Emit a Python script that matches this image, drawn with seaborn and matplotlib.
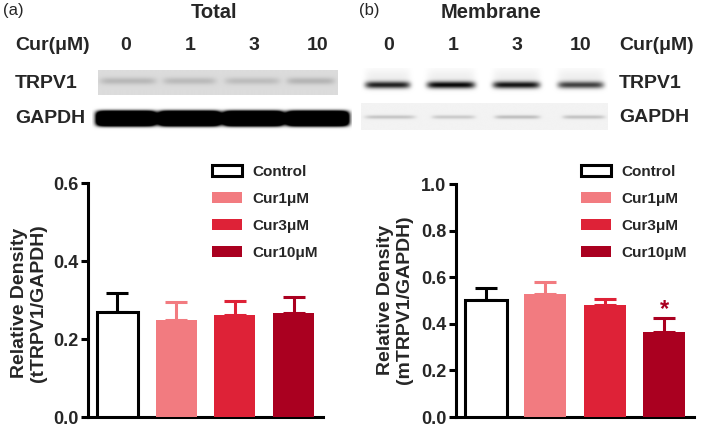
import numpy as np
import pandas as pd
import matplotlib
matplotlib.use("Agg")
import matplotlib.pyplot as plt
from matplotlib.patches import Patch
import seaborn as sns

# ---------------- data ----------------
groups = ["Control", "Cur1μM", "Cur3μM", "Cur10μM"]
lanes = ["0", "1", "3", "10"]
total_mean = [0.269, 0.249, 0.261, 0.266]
total_sem = [0.049, 0.046, 0.037, 0.041]
mem_mean = [0.502, 0.528, 0.481, 0.365]
mem_sem = [0.053, 0.051, 0.025, 0.060]
total_yticks = [0.0, 0.2, 0.4, 0.6]
mem_yticks = [0.0, 0.2, 0.4, 0.6, 0.8, 1.0]
sig_marks = ["", "", "", "*"]
# blot band darkness (0 = white, 1 = black)
total_trpv1_band = [0.14, 0.13, 0.12, 0.15]
total_gapdh_band = [1.0, 1.0, 1.0, 1.0]
mem_trpv1_band = [0.85, 0.95, 0.9, 0.72]
mem_gapdh_band = [0.18, 0.16, 0.21, 0.19]

fill_colors = ["#FFFFFF", "#F27B80", "#DE2237", "#AA0020"]
err_colors = ["#000000", "#F27B80", "#DE2237", "#AA0020"]

sns.set_style("ticks")
plt.rcParams["font.family"] = ["Liberation Sans", "DejaVu Sans"]
plt.rcParams["font.weight"] = "bold"

W, H = 707, 436
fig = plt.figure(figsize=(W / 100, H / 100), dpi=100)


def px_axes(x0, y0, x1, y1):
    return fig.add_axes([x0 / W, 1 - y1 / H, (x1 - x0) / W, (y1 - y0) / H])


def blot(ax, darkness, bg, lane_edges, yc, half_h, power=2, halo=0.0,
         gain=1.0, xpow=8):
    ny, nx = 200, 500
    xs = np.linspace(0, 1, nx)
    ys = np.linspace(0, 1, ny)
    X, Y = np.meshgrid(xs, ys)
    img = np.full((ny, nx), bg, dtype=float)
    for d, (a, b) in zip(darkness, lane_edges):
        xc, hw = (a + b) / 2, (b - a) / 2
        r = (np.abs((X - xc) / hw) ** xpow) + (np.abs((Y - yc) / half_h) ** power)
        img = img + gain * d * np.exp(-r)
        if halo:
            vh = np.exp(-((Y - (yc - 2.2 * half_h)) / (2.5 * half_h)) ** 2)
            hx = np.exp(-np.abs((X - xc) / hw) ** 8)
            img = img + halo * hx * vh
    img = np.clip(img, 0, 1)
    ax.imshow(img, cmap="gray_r", vmin=0, vmax=1, aspect="auto",
              extent=(0, 1, 1, 0), interpolation="bilinear")
    ax.set_xlim(0, 1)
    ax.set_ylim(1, 0)
    ax.axis("off")


# ---------------- blots ----------------
# Total TRPV1 (strip 98-338, 70-95)
ax = px_axes(98, 70, 338, 95)
w = 240.0
edges = [((100 - 98) / w, (156 - 98) / w), ((163 - 98) / w, (216 - 98) / w),
         ((225 - 98) / w, (280 - 98) / w), ((287 - 98) / w, (335 - 98) / w)]
blot(ax, total_trpv1_band, 0.14, edges, 0.44, 0.14)

# Total GAPDH (92-352, 104-134)
ax = px_axes(92, 104, 352, 134)
w = 260.0
edges = [((96 - 92) / w, (156 - 92) / w), ((158 - 92) / w, (221 - 92) / w),
         ((223 - 92) / w, (284 - 92) / w), ((286 - 92) / w, (349 - 92) / w)]
blot(ax, total_gapdh_band, 0.0, edges, 0.5, 0.24, power=4, gain=2.6,
     xpow=10)

# Membrane TRPV1 (361-608, 68-100)
ax = px_axes(361, 68, 608, 100)
w = 247.0
edges = [((365 - 361) / w, (410 - 361) / w), ((427 - 361) / w, (475 - 361) / w),
         ((493 - 361) / w, (540 - 361) / w), ((558 - 361) / w, (604 - 361) / w)]
blot(ax, mem_trpv1_band, 0.0, edges, 0.53, 0.11, halo=0.06)

# Membrane GAPDH (361-608, 103-130)
ax = px_axes(361, 103, 608, 130)
w = 247.0
edges = [((365 - 361) / w, (415 - 361) / w), ((432 - 361) / w, (475 - 361) / w),
         ((495 - 361) / w, (540 - 361) / w), ((563 - 361) / w, (605 - 361) / w)]
blot(ax, mem_gapdh_band, 0.05, edges, 0.52, 0.07)

# ---------------- header texts ----------------
def ftext(x, y, s, size=14, weight="bold", ha="center", **kw):
    fig.text(x / W, 1 - y / H, s, fontsize=size, fontweight=weight,
             ha=ha, va="center", **kw)

ftext(3, 11, "(a)", size=12, weight="normal", ha="left")
ftext(359, 11, "(b)", size=12, weight="normal", ha="left")
ftext(214, 12, "Total", size=14.5)
ftext(491, 12, "Membrane", size=14.5)
ftext(15, 46, "Cur(μM)", ha="left")
ftext(619, 46, "Cur(μM)", ha="left")
for lx, lab in zip([126, 190, 254, 318], lanes):
    ftext(lx, 46, lab)
for lx, lab in zip([389, 453, 517, 581], lanes):
    ftext(lx, 46, lab)
ftext(15, 84, "TRPV1", ha="left")
ftext(15, 118, "GAPDH", ha="left")
ftext(619, 84, "TRPV1", ha="left")
ftext(619, 117, "GAPDH", ha="left")


# ---------------- bar charts ----------------
def bar_panel(ax, means, sems, yticks, ylabel, lab_x, lab_y, leg_xy, star):
    df = pd.DataFrame({"group": groups, "value": means})
    sns.barplot(data=df, x="group", y="value", hue="group",
                palette=fill_colors, width=0.7, ax=ax, legend=False,
                saturation=1, order=groups, hue_order=groups)
    for i, p in enumerate(ax.patches):
        if i == 0:
            p.set_edgecolor("black")
            p.set_linewidth(2.2)
        else:
            p.set_edgecolor(fill_colors[i])
            p.set_linewidth(0)
        p.set_zorder(3)
    for i in range(len(groups)):
        ax.errorbar(i, means[i], yerr=[[0], [sems[i]]], fmt="none",
                    ecolor=err_colors[i], elinewidth=2.2, capsize=8,
                    capthick=2.2, zorder=2)
        if star and sig_marks[i]:
            ax.text(i, means[i] + sems[i] - 0.012, sig_marks[i],
                    ha="center", va="bottom", color=err_colors[i],
                    fontsize=17, fontweight="bold")
    ax.set_xlim(-0.5, 3.5)
    ax.set_ylim(0, yticks[-1])
    ax.set_yticks(yticks)
    ax.set_yticklabels([f"{t:.1f}" for t in yticks], fontsize=13,
                       fontweight="bold")
    ax.set_xticks([])
    ax.set_xlabel("")
    ax.set_ylabel("")
    sns.despine(ax=ax)
    for sp in ["left", "bottom"]:
        ax.spines[sp].set_linewidth(2.2)
        ax.spines[sp].set_color("black")
    ax.tick_params(axis="y", width=2.2, length=5, color="black", pad=2)
    fig.text(lab_x / W, 1 - lab_y / H, ylabel, rotation=90, ha="center",
             va="center", fontsize=14, fontweight="bold",
             multialignment="center", linespacing=1.1)
    handles = [Patch(facecolor=fill_colors[i],
                     edgecolor="black" if i == 0 else fill_colors[i],
                     linewidth=2.2 if i == 0 else 0, label=groups[i])
               for i in range(len(groups))]
    ax.legend(handles=handles, loc="upper left",
              bbox_to_anchor=(leg_xy[0] / W, 1 - leg_xy[1] / H),
              bbox_transform=fig.transFigure, frameon=False,
              prop={"weight": "bold", "size": 11}, handlelength=1.95,
              handleheight=0.75, labelspacing=0.85, handletextpad=0.7,
              borderpad=0, borderaxespad=0)


ax_t = px_axes(88, 183, 323, 417)
ax_m = px_axes(456, 184, 694, 417)
bar_panel(ax_t, total_mean, total_sem, total_yticks,
          "Relative Density\n(tTRPV1/GAPDH)", 29, 303, (212, 165), False)
bar_panel(ax_m, mem_mean, mem_sem, mem_yticks,
          "Relative Density\n(mTRPV1/GAPDH)", 395, 300, (581, 165), True)

fig.savefig("out.png", dpi=100)
